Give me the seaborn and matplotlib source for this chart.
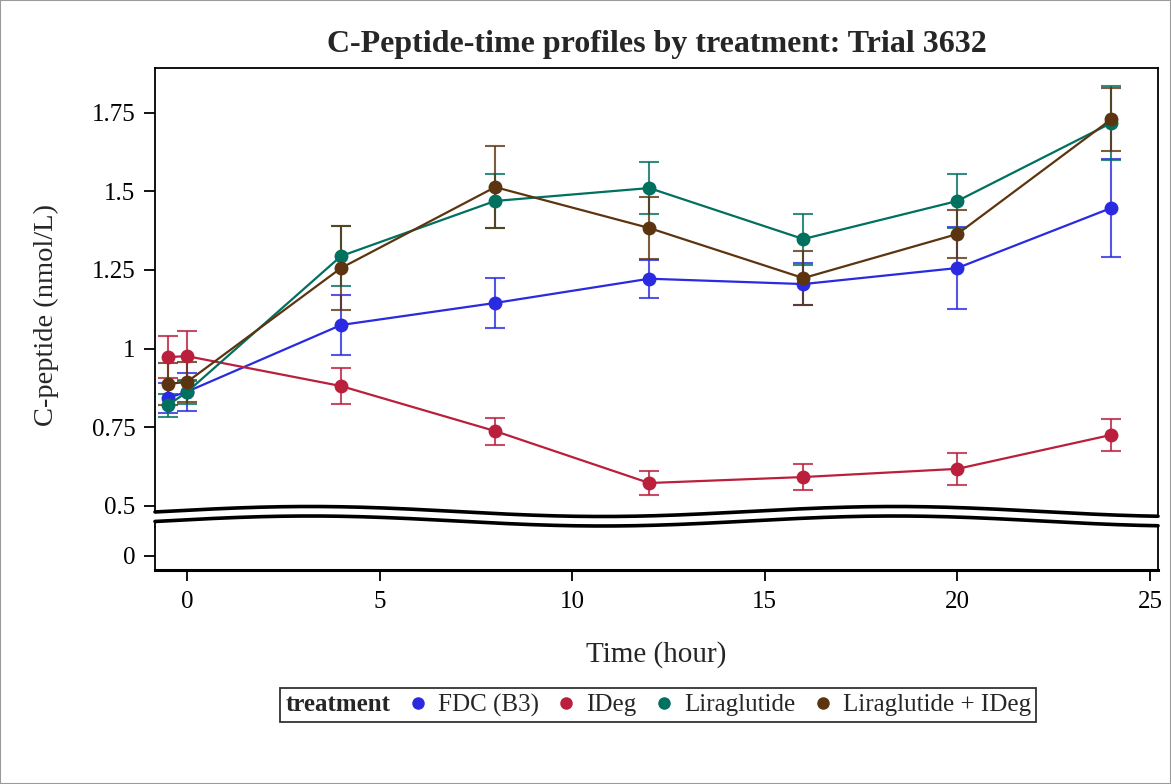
import numpy as np
import pandas as pd
import seaborn as sns
import matplotlib
matplotlib.use("Agg")
import matplotlib.pyplot as plt
from matplotlib.lines import Line2D
from matplotlib.patches import Polygon, Rectangle

# ---------------- data ----------------
time = [-0.5, 0, 4, 8, 12, 16, 20, 24]
treatments = ["FDC (B3)", "IDeg", "Liraglutide", "Liraglutide + IDeg"]
fdc_mean = [0.843, 0.863, 1.075, 1.145, 1.222, 1.205, 1.256, 1.447]
fdc_err = [0.047, 0.060, 0.095, 0.078, 0.060, 0.068, 0.130, 0.155]
ideg_mean = [0.973, 0.976, 0.881, 0.738, 0.573, 0.592, 0.618, 0.726]
ideg_err = [0.067, 0.080, 0.058, 0.043, 0.038, 0.040, 0.050, 0.050]
lira_mean = [0.820, 0.862, 1.294, 1.469, 1.510, 1.348, 1.469, 1.717]
lira_err = [0.037, 0.038, 0.095, 0.086, 0.082, 0.081, 0.087, 0.117]
combo_mean = [0.888, 0.894, 1.256, 1.513, 1.383, 1.224, 1.364, 1.729]
combo_err = [0.066, 0.065, 0.134, 0.130, 0.097, 0.085, 0.077, 0.100]
colors = ["#2A2AE0", "#BA1F3C", "#00705F", "#5C3510"]

ytick_top = [0.5, 0.75, 1.0, 1.25, 1.5, 1.75]
ytick_top_labels = ["0.5", "0.75", "1", "1.25", "1.5", "1.75"]
ytick_bottom = [0]
xticks = [0, 5, 10, 15, 20, 25]

means = [fdc_mean, ideg_mean, lira_mean, combo_mean]
errs = [fdc_err, ideg_err, lira_err, combo_err]
df = pd.concat([
    pd.DataFrame({"time": time, "value": m, "err": e, "treatment": t})
    for t, m, e in zip(treatments, means, errs)
], ignore_index=True)

# ---------------- style ----------------
sns.set_style("white")
plt.rcParams["font.family"] = ["Liberation Serif", "DejaVu Serif"]

W, H = 1171, 784
fig = plt.figure(figsize=(W / 100, H / 100), dpi=100)

def fx(x):
    return x / W

def fy(y):
    return 1 - y / H

L, R = 155, 1158
ax = fig.add_axes([fx(L), fy(527), fx(R) - fx(L), fy(68) - fy(527)])
axb = fig.add_axes([fx(L), fy(570), fx(R) - fx(L), fy(527) - fy(570)], sharex=ax)

pal = dict(zip(treatments, colors))
for t in treatments:
    sub = df[df.treatment == t]
    ax.errorbar(sub["time"], sub["value"], yerr=sub["err"], fmt="none",
                ecolor=pal[t], elinewidth=1.5, capsize=7, capthick=1.5,
                alpha=0.8, zorder=2)
sns.lineplot(data=df, x="time", y="value", hue="treatment", palette=pal,
             hue_order=treatments, marker="o", markersize=10, markeredgewidth=0,
             linewidth=1.6, estimator=None, sort=False, legend=False, ax=ax,
             zorder=3)

px_per_unit = 314.8
ax.set_ylim(0.5 + (506 - 527) / px_per_unit, 0.5 + (506 - 68) / px_per_unit)
axb.set_ylim(-(570 - 556) / px_per_unit, (556 - 527) / px_per_unit)
ax.set_xlim((L - 187) / 38.52, (R - 187) / 38.52)

ax.set_yticks(ytick_top)
ax.set_yticklabels(ytick_top_labels)
axb.set_yticks(ytick_bottom)
axb.set_yticklabels(["0"])
axb.set_xticks(xticks)
axb.set_xticklabels([str(v) for v in xticks])
ax.tick_params(axis="x", bottom=False, labelbottom=False)
for a in (ax, axb):
    a.set_xlabel("")
    a.set_ylabel("")
    a.tick_params(axis="both", direction="out", length=8, width=1.3,
                  colors="black", labelsize=18, left=True, pad=6)
    for s in a.spines.values():
        s.set_color("black")
        s.set_linewidth(1.3)
axb.tick_params(axis="x", bottom=True, length=8, pad=7)
ax.spines["bottom"].set_visible(False)
axb.spines["top"].set_visible(False)
axb.spines["bottom"].set_linewidth(2.2)

# title and labels
fig.text(fx((L + R) / 2), fy(52), "C-Peptide-time profiles by treatment: Trial 3632",
         ha="center", va="baseline", fontsize=23, fontweight="bold")
fig.text(fx((L + R) / 2), fy(655), "Time (hour)", ha="center", va="center",
         fontsize=21)
fig.text(fx(46), fy(315), "C-peptide (nmol/L)", ha="center", va="center",
         rotation=90, fontsize=20.5)

# axis-break wave
xs = np.linspace(L, R, 400)
up = 511.5 - 5 * np.cos(2 * np.pi * (xs - 310) / 585)
lo = up + 9.5
xfill = np.concatenate([[L - 2], xs, [R + 2], [R + 2], xs[::-1], [L - 2]])
yfill = np.concatenate([[up[0]], up, [up[-1]], [lo[-1]], lo[::-1], [lo[0]]])
fig.add_artist(Polygon(np.column_stack([fx(xfill), fy(yfill)]), closed=True,
                       facecolor="white", edgecolor="none",
                       transform=fig.transFigure, zorder=5))
for yy in (up, lo):
    fig.add_artist(Line2D(fx(xs), fy(yy), color="black", linewidth=2.6,
                          transform=fig.transFigure, zorder=6))

# legend
handles = [Line2D([], [], linestyle="none", marker="o", markersize=9,
                  markerfacecolor=c, markeredgewidth=0) for c in colors]
leg = fig.legend(handles, treatments, title="treatment", loc="center",
                 bbox_to_anchor=(fx(658), fy(705)), ncol=4, frameon=True,
                 fontsize=18, title_fontproperties={"weight": "bold", "size": 18},
                 handlelength=0.8, handletextpad=0.4, columnspacing=0.7,
                 borderpad=0.2, fancybox=False, edgecolor="black")
leg.get_frame().set_linewidth(1.3)
c = leg.get_children()[0]
title_box = c.get_children()[0]
hpack = c.get_children()[1]
c._children.remove(title_box)
hpack._children = [title_box] + hpack.get_children()

# figure border
fig.add_artist(Rectangle((0, 0), 1, 1, transform=fig.transFigure, fill=False,
                         edgecolor="#9a9a9a", linewidth=1.5))

fig.savefig("out.png", dpi=100)
